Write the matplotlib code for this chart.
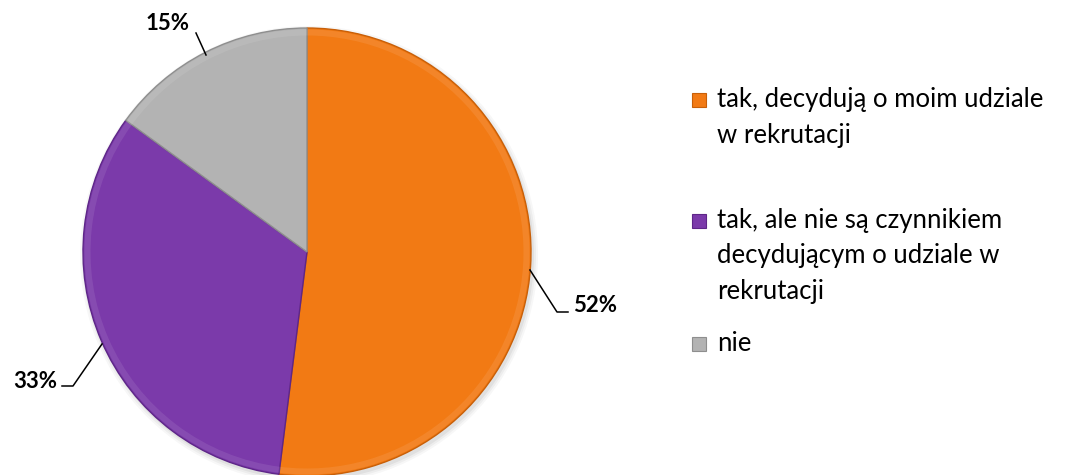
import matplotlib.pyplot as plt
from matplotlib.patches import Rectangle, Circle

# ------ Data ------
labels = ["tak, decydują o moim udziale\nw rekrutacji",
          "tak, ale nie są czynnikiem\ndecydującym o udziale w\nrekrutacji",
          "nie"]
values = [52, 33, 15]
pct_labels = ["52%", "33%", "15%"]
colors = ["#F27A14", "#7B3AAA", "#B3B3B3"]
edges = ["#C85F08", "#5E2688", "#8E8E8E"]

plt.rcParams["font.family"] = ["Lato", "DejaVu Sans"]

# ------ Figure in pixel coordinates ------
W, H = 1069, 475
fig = plt.figure(figsize=(W / 100, H / 100), dpi=100)
ax = fig.add_axes([0, 0, 1, 1])

cx, cy, r = 307, 252, 224

# soft shadow
for i, a in enumerate([0.05, 0.04, 0.03]):
    ax.add_patch(Circle((cx + 2, cy + 3), r + 1 + i * 2, color="black",
                        alpha=a, lw=0, zorder=0))

wedges, _ = ax.pie(values, colors=colors, startangle=-90, counterclock=True,
                   center=(cx, cy), radius=r, frame=True,
                   wedgeprops=dict(linewidth=1.0, zorder=2))
for w, ec in zip(wedges, edges):
    w.set_edgecolor(ec)

# faint bevel along the rim
ax.pie(values, colors=["white"] * 3, startangle=-90, counterclock=True,
       center=(cx, cy), radius=r - 1.5, frame=True,
       wedgeprops=dict(width=6, linewidth=0, alpha=0.09, zorder=3))

ax.set_xlim(0, W)
ax.set_ylim(H, 0)
ax.set_aspect("equal")
ax.axis("off")

# ------ Percentage labels with leader lines ------
leaders = [
    [(530, 270), (557, 312), (568, 312)],
    [(102, 344), (73, 386), (62, 386)],
    [(206, 55), (196, 33)],
]
label_pos = [(573, 306, "left"), (57, 381, "right"), (168, 24, "center")]
for txt, pts, (tx, ty, ha) in zip(pct_labels, leaders, label_pos):
    xs, ys = zip(*pts)
    ax.plot(xs, ys, color="black", lw=1.1, zorder=4)
    ax.text(tx, ty, txt, ha=ha, va="center", fontsize=16,
            fontweight="bold", zorder=5)

# ------ Legend ------
first_baselines = [107, 228, 351]
line_gap = 35.5
for lab, col, ec, base in zip(labels, colors, edges, first_baselines):
    ax.add_patch(Rectangle((692, base - 14), 14, 14, facecolor=col,
                           edgecolor=ec, lw=0.8, zorder=5))
    for k, line in enumerate(lab.split("\n")):
        ax.text(717, base + k * line_gap, line, ha="left", va="baseline",
                fontsize=18.5, color="black", zorder=5)

fig.savefig("out.png", dpi=100)
